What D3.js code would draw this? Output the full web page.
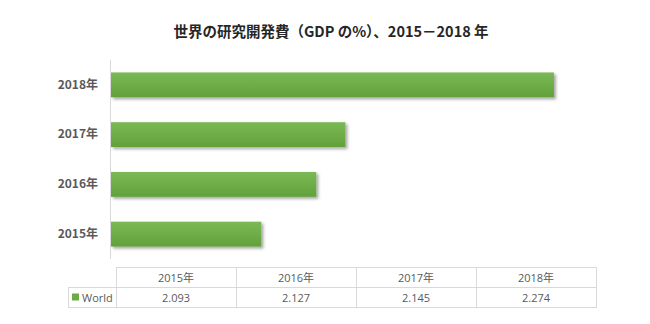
<!DOCTYPE html>
<html><head><meta charset="utf-8">
<script src="https://cdn.jsdelivr.net/npm/d3@7/dist/d3.min.js"></script>
<style>
body{margin:0;background:#fff;}
text{font-family:"Open Sans","Noto Sans CJK JP",sans-serif;}
</style></head>
<body><div id="chart"></div>
<script>
const title = "世界の研究開発費（GDP の%）、2015－2018 年";
const categories = ["2015年","2016年","2017年","2018年"];
const seriesName = "World";
const values = [2.093, 2.127, 2.145, 2.274];
const xDomain = [2.0, 2.3];

(function(){
const W = 650, H = 324;
const svg = d3.select("#chart").append("svg").attr("width", W).attr("height", H);

const defs = svg.append("defs");
const grad = defs.append("linearGradient").attr("id","barGrad").attr("x1",0).attr("y1",0).attr("x2",0).attr("y2",1);
grad.append("stop").attr("offset","0%").attr("stop-color","#7bb956");
grad.append("stop").attr("offset","100%").attr("stop-color","#62a13a");
const f = defs.append("filter").attr("id","shadow").attr("x","-5%").attr("y","-30%").attr("width","115%").attr("height","180%");
f.append("feDropShadow").attr("dx",2).attr("dy",2).attr("stdDeviation",1.5).attr("flood-color","#000").attr("flood-opacity",0.35);

svg.append("text").attr("x", 331).attr("y", 37).attr("text-anchor","middle")
  .attr("font-size", 14.5).attr("font-weight","bold").attr("fill","#262626")
  .style("font-family","\"Noto Sans CJK JP\",sans-serif").text(title);

const x = d3.scaleLinear().domain(xDomain).range([111, 596]);
const y = d3.scaleBand().domain(categories.slice().reverse()).range([60, 259]).paddingInner(0.5).paddingOuter(0.25);

svg.append("g").selectAll("rect").data(categories).join("rect")
  .attr("x", x(xDomain[0]))
  .attr("y", d => y(d))
  .attr("height", y.bandwidth())
  .attr("width", (d,i) => x(values[i]) - x(xDomain[0]))
  .attr("fill","url(#barGrad)")
  .attr("filter","url(#shadow)");

svg.append("line").attr("x1",110.5).attr("x2",110.5).attr("y1",60).attr("y2",259)
  .attr("stroke","#d9d9d9").attr("stroke-width",1);

const yAxis = d3.axisLeft(y).tickSize(0).tickPadding(12);
const ga = svg.append("g").attr("transform","translate(110,0)").call(yAxis);
ga.select(".domain").remove();
ga.selectAll("text").attr("font-size",12).attr("font-weight","bold").attr("fill","#595959")
  .style("font-family","\"Noto Sans CJK JP\",sans-serif");

const colX = d3.scaleBand().domain(categories).range([116, 596]);
const tTop = 267, rowH = 20;
const tg = svg.append("g");
const stroke = "#d9d9d9";
tg.append("rect").attr("x",116.5).attr("y",tTop+0.5).attr("width",480).attr("height",rowH).attr("fill","none").attr("stroke",stroke);
tg.append("rect").attr("x",68.5).attr("y",tTop+rowH+0.5).attr("width",528).attr("height",rowH).attr("fill","none").attr("stroke",stroke);
categories.forEach((c,i) => {
  const cx = colX(c);
  tg.append("line").attr("x1",cx+0.5).attr("x2",cx+0.5).attr("y1",tTop).attr("y2",tTop+2*rowH).attr("stroke",stroke);
  tg.append("text").attr("x",cx+colX.bandwidth()/2).attr("y",tTop+14.5).attr("text-anchor","middle")
    .attr("font-size",11).attr("fill","#595959").text(c);
  tg.append("text").attr("x",cx+colX.bandwidth()/2).attr("y",tTop+rowH+14.5).attr("text-anchor","middle")
    .attr("font-size",11).attr("fill","#595959").text(values[i].toFixed(3));
});
tg.append("rect").attr("x",72).attr("y",tTop+rowH+6.5).attr("width",7).attr("height",7).attr("fill","#6aab44");
tg.append("text").attr("x",82).attr("y",tTop+rowH+14.5).attr("font-size",11).attr("fill","#595959").text(seriesName);
})();
</script></body></html>
